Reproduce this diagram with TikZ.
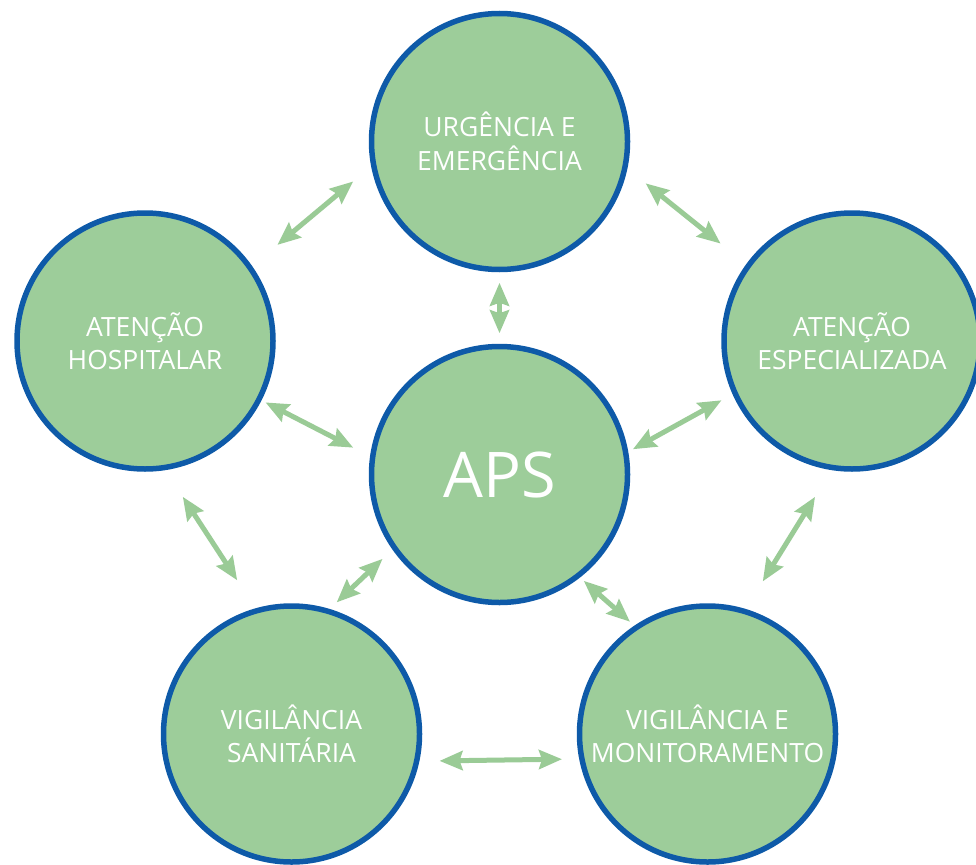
\documentclass[tikz,border=0pt]{standalone}
\usepackage{fontspec}
\setmainfont{Open Sans}
\usetikzlibrary{arrows.meta}
\definecolor{verde}{HTML}{9DCD9A}
\definecolor{azul}{HTML}{0E5AA8}
\definecolor{verdeseta}{HTML}{9ACB96}
\begin{document}
\begin{tikzpicture}[x=1pt,y=-1pt,
        circulo/.style={circle, draw=azul, fill=verde, line width=5.5pt, minimum size=256pt,
            inner sep=0pt, outer sep=2.75pt, text=white, align=center,
            font=\fontsize{26.5}{33.5}\selectfont},
        seta/.style={draw=verdeseta, line width=5pt, >={Stealth[length=23pt,width=19pt,inset=3pt]}, <->}]
        \useasboundingbox (0,0) rectangle (976,864);
        \clip (0,0) rectangle (976,864);

        \node[circulo] (urgencia) at (499.5,141.5) {URGÊNCIA E\\EMERGÊNCIA};
        \node[circulo] (hospitalar) at (145,341) {ATENÇÃO\\HOSPITALAR};
        \node[circulo] (especializada) at (852,341) {ATENÇÃO\\ESPECIALIZADA};
        \node[circulo, font=\fontsize{63}{70}\selectfont] (aps) at (499.5,474.5) {APS};
        \node[circulo] (sanitaria) at (291.5,734) {VIGILÂNCIA\\SANITÁRIA};
        \node[circulo] (monitoramento) at (707.5,734) {VIGILÂNCIA E\\MONITORAMENTO};

        \draw[seta, shorten <=23.4pt, shorten >=32.9pt] (urgencia.191.9) -- (hospitalar.35.7);
        \draw[seta, shorten <=23.4pt, shorten >=32.9pt] (urgencia.348.1) -- (especializada.144.3);
        \draw[seta, shorten <=10.5pt, shorten >=10.5pt] (urgencia.south) -- (aps.north);
        \draw[seta, shorten <=4.5pt, shorten >=18.9pt] (hospitalar.333.3) -- (aps.172.2);
        \draw[seta, shorten <=12.6pt, shorten >=5.3pt] (especializada.204.9) -- (aps.10.6);
        \draw[seta, shorten <=31.8pt, shorten >=33.5pt] (hospitalar.279.6) -- (sanitaria.106.2);
        \draw[seta, shorten <=31.4pt, shorten >=32.4pt] (especializada.261.1) -- (monitoramento.73.5);
        \draw[seta, shorten <=13.6pt, shorten >=9.6pt] (aps.215.7) -- (sanitaria.73.5);
        \draw[seta, shorten <=5pt, shorten >=5.9pt] (aps.308.1) -- (monitoramento.124.5);
        \draw[seta, shorten <=20.1pt, shorten >=17.1pt] (sanitaria.348.6) -- (monitoramento.191.4);
    \end{tikzpicture}
\end{document}
